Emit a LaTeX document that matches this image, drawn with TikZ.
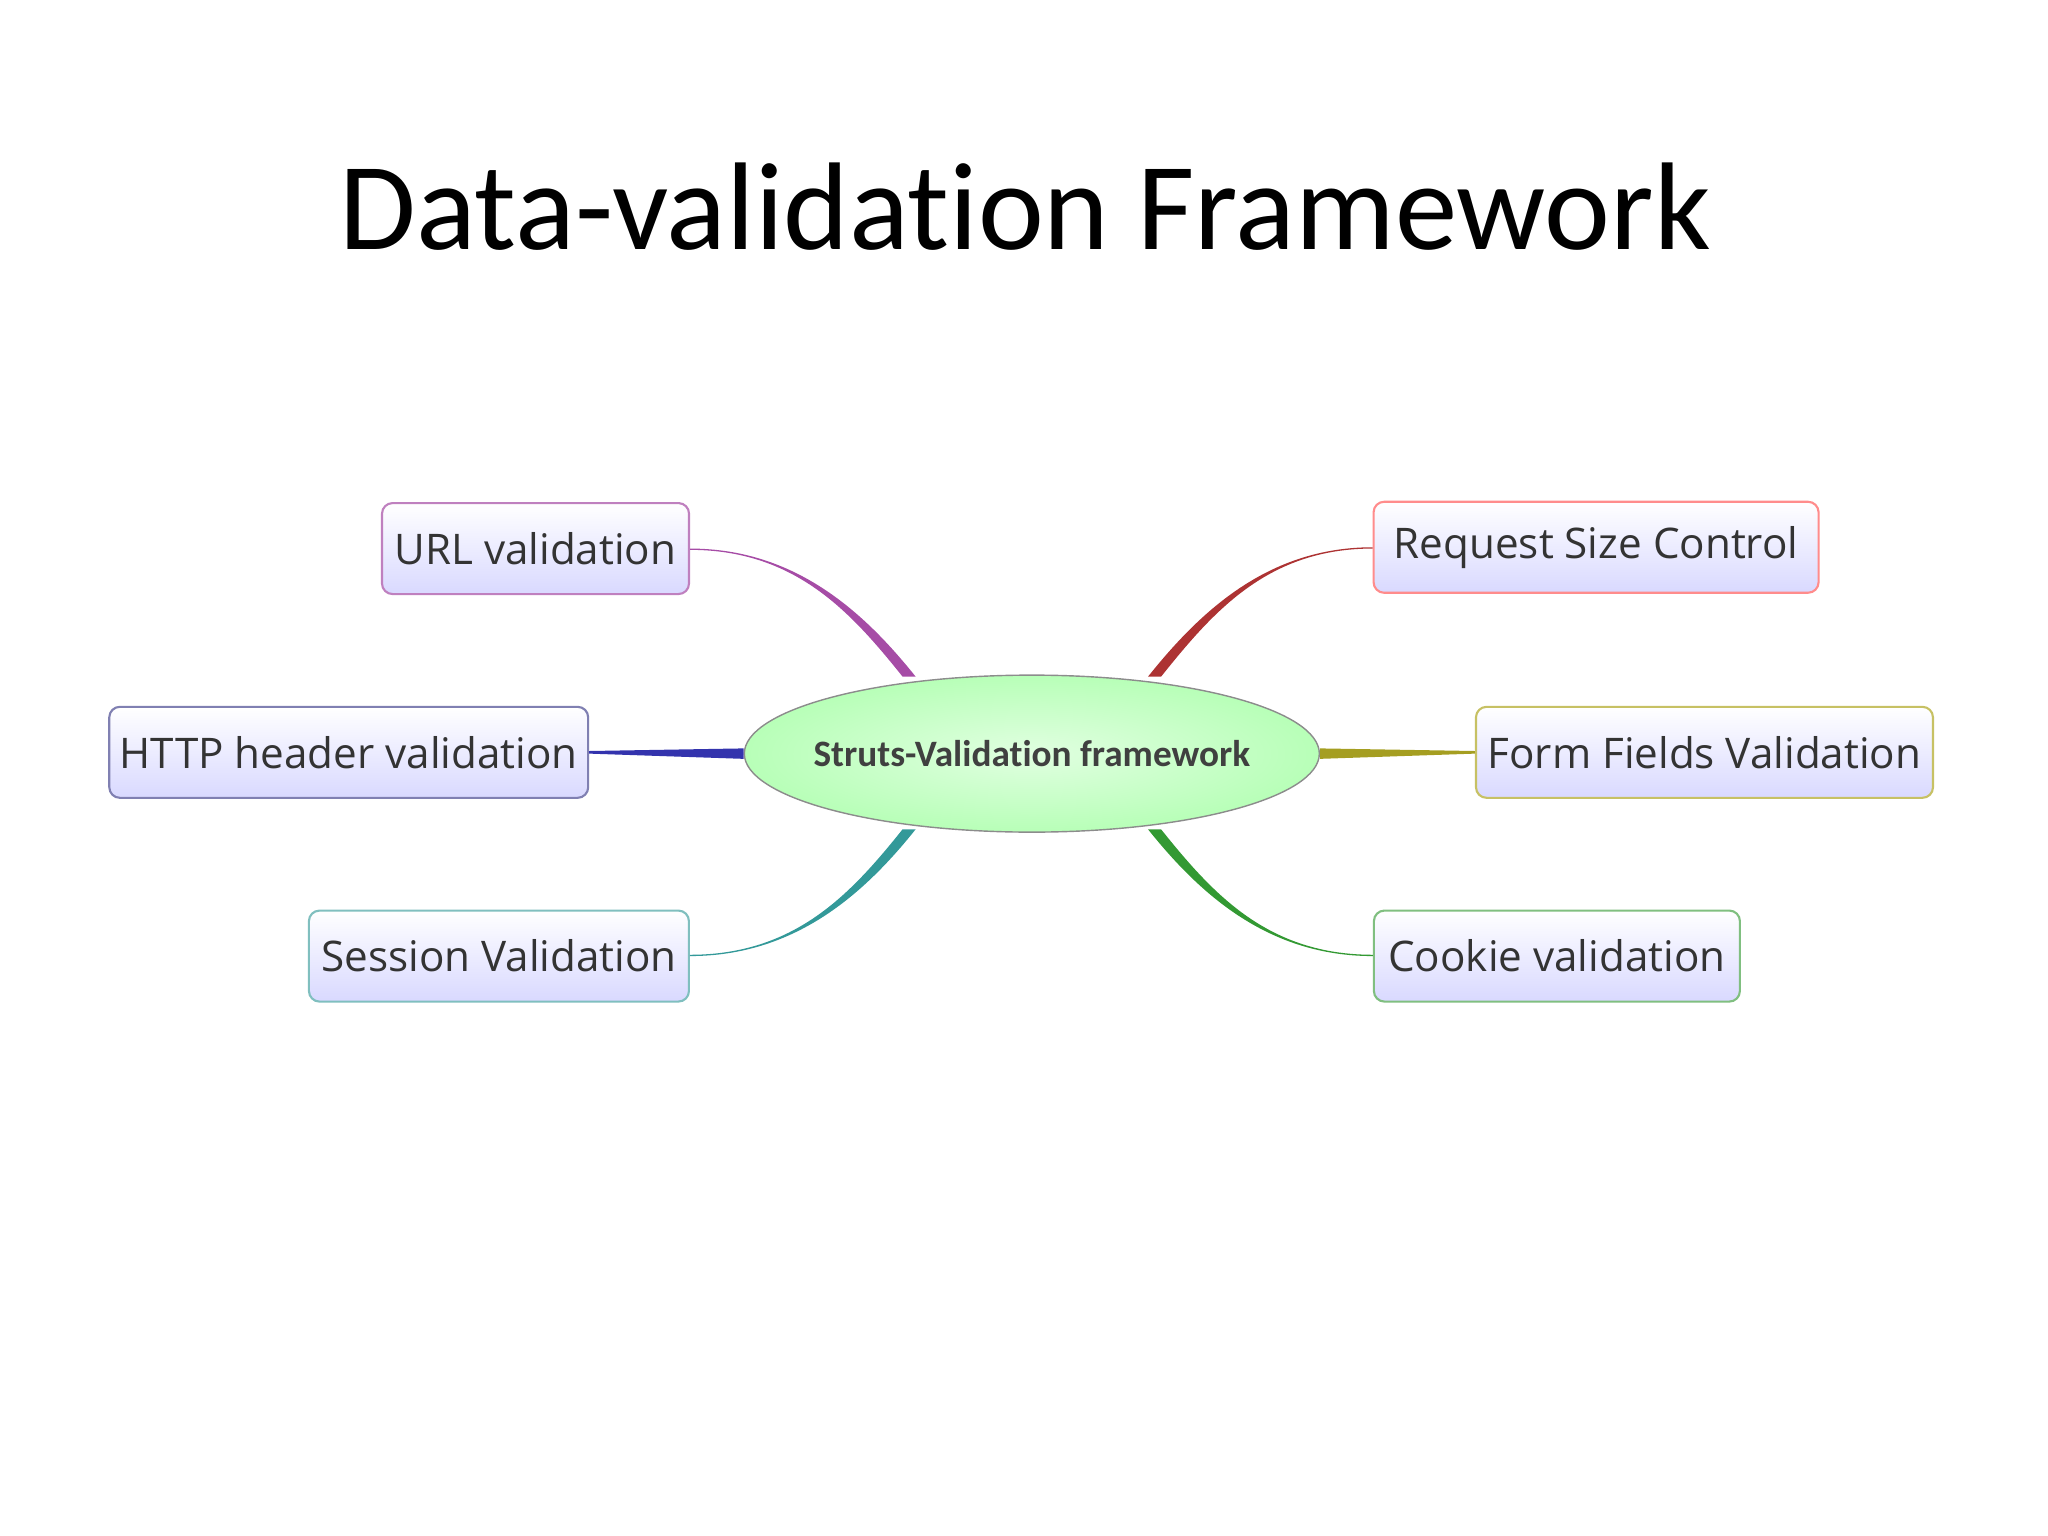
\documentclass[tikz,border=0pt]{standalone}
\usepackage{fontspec}
\setmainfont[Ligatures=NoCommon]{Carlito}
\newfontfamily\boxfont{Open Sans}
\usetikzlibrary{calc,shapes.geometric}
\begin{document}
\begin{tikzpicture}[x=0.01306cm,y=-0.01306cm,
  leaf/.style={draw=#1, rounded corners=3pt, top color=white, bottom color=blue!15!white, line width=0.6pt,
     minimum height=0.91cm, inner xsep=3pt, font=\boxfont\fontsize{12}{15}\selectfont, text=black!80},
]
\useasboundingbox (0,0) rectangle (1568,1176);
\node[font=\fontsize{35.5}{42}\selectfont] (title) at (785,158) {Data-validation Framework};
\node[ellipse, draw=black!45, inner color=green!12!white, outer color=green!28!white, inner xsep=-4.5pt, inner ysep=1pt,
  minimum width=5.75cm, minimum height=1.57cm, font=\bfseries\fontsize{10.6}{13}\selectfont, text=black!75] (c) at (790,577) {Struts-Validation framework};
\node[leaf=violet!50, minimum width=3.07cm] (url) at (410,420) {URL validation};
\node[leaf=blue!40!black!50, minimum width=4.78cm] (http) at (267,576) {HTTP header validation};
\node[leaf=teal!50, minimum width=3.8cm] (sess) at (382,732) {Session Validation};
\node[leaf=red!45, minimum width=4.45cm] (req) at (1222,419) {Request Size Control};
\node[leaf=olive!50, minimum width=4.57cm] (form) at (1305,576) {Form Fields Validation};
\node[leaf=green!50!black!50, minimum width=3.66cm] (cook) at (1192,732) {Cookie validation};
\coordinate (cu) at (695,518); \coordinate (cr) at (885,518);
\coordinate (cl) at (c.west); \coordinate (ce) at (c.east);
\coordinate (cs) at (695,635); \coordinate (cc) at (885,635);
\fill[violet!70] (url.east) .. controls +(80,0) and +(-40,-50) .. ($(cu)+(6,0)$) -- ($(cu)+(-4,0)$) .. controls +(-40,-50) and +(80,0) .. ($(url.east)+(0,1)$) -- cycle;
\fill[red!60!black!80] (req.west) .. controls +(-80,0) and +(40,-50) .. ($(cr)+(-6,0)$) -- ($(cr)+(4,0)$) .. controls +(40,-50) and +(-80,0) .. ($(req.west)+(0,1)$) -- cycle;
\fill[teal!80] (sess.east) .. controls +(80,0) and +(-40,50) .. ($(cs)+(6,0)$) -- ($(cs)+(-4,0)$) .. controls +(-40,50) and +(80,0) .. ($(sess.east)+(0,-1)$) -- cycle;
\fill[green!50!black!80] (cook.west) .. controls +(-80,0) and +(40,50) .. ($(cc)+(-6,0)$) -- ($(cc)+(4,0)$) .. controls +(40,50) and +(-80,0) .. ($(cook.west)+(0,-1)$) -- cycle;
\fill[blue!60!black!80] ($(http.east)+(0,-1)$) -- ($(cl)+(0,-4)$) -- ($(cl)+(0,4)$) -- ($(http.east)+(0,1)$) -- cycle;
\fill[olive!80] ($(form.west)+(0,-1)$) -- ($(ce)+(0,-4)$) -- ($(ce)+(0,4)$) -- ($(form.west)+(0,1)$) -- cycle;
\end{tikzpicture}
\end{document}
